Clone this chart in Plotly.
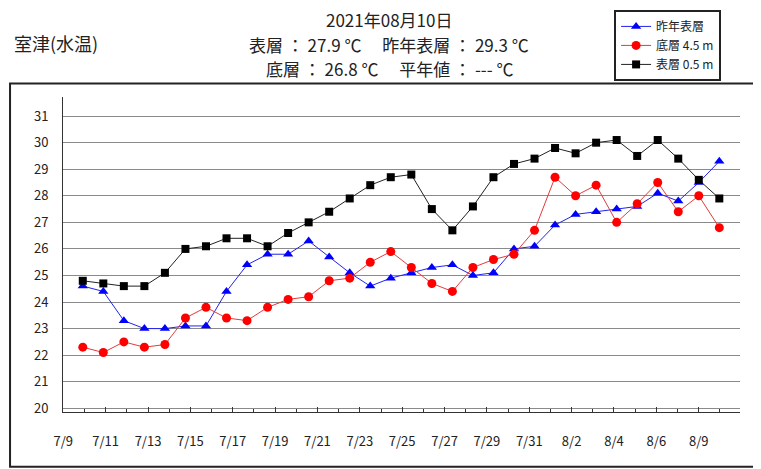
import plotly.graph_objects as go
import pandas as pd

# ---- data ----
dates = pd.date_range("2021-07-10", "2021-08-10", freq="D").strftime("%Y-%m-%d").tolist()

last_year_surface = [24.6, 24.4, 23.3, 23.0, 23.0, 23.1, 23.1, 24.4, 25.4, 25.8, 25.8, 26.3,
                     25.7, 25.1, 24.6, 24.9, 25.1, 25.3, 25.4, 25.0, 25.1, 26.0, 26.1, 26.9,
                     27.3, 27.4, 27.5, 27.6, 28.1, 27.8, 28.5, 29.3]
bottom_45m = [22.3, 22.1, 22.5, 22.3, 22.4, 23.4, 23.8, 23.4, 23.3, 23.8, 24.1, 24.2,
              24.8, 24.9, 25.5, 25.9, 25.3, 24.7, 24.4, 25.3, 25.6, 25.8, 26.7, 28.7,
              28.0, 28.4, 27.0, 27.7, 28.5, 27.4, 28.0, 26.8]
surface_05m = [24.8, 24.7, 24.6, 24.6, 25.1, 26.0, 26.1, 26.4, 26.4, 26.1, 26.6, 27.0,
               27.4, 27.9, 28.4, 28.7, 28.8, 27.5, 26.7, 27.6, 28.7, 29.2, 29.4, 29.8,
               29.6, 30.0, 30.1, 29.5, 30.1, 29.4, 28.6, 27.9]

tick_dates = ["2021-07-09", "2021-07-11", "2021-07-13", "2021-07-15", "2021-07-17",
              "2021-07-19", "2021-07-21", "2021-07-23", "2021-07-25", "2021-07-27",
              "2021-07-29", "2021-07-31", "2021-08-02", "2021-08-04", "2021-08-06",
              "2021-08-08"]
tick_labels = ["7/9", "7/11", "7/13", "7/15", "7/17", "7/19", "7/21", "7/23", "7/25",
               "7/27", "7/29", "7/31", "8/2", "8/4", "8/6", "8/9"]
y_ticks = list(range(20, 32))

names = ["昨年表層", "底層 4.5 m", "表層 0.5 m"]
title_lines = ["2021年08月10日",
               "表層 ： 27.9 ℃　 昨年表層 ： 29.3 ℃",
               "底層 ： 26.8 ℃　 平年値 ： --- ℃"]
station = "室津(水温)"

# ---- layout geometry (page pixels; the page body has an 8px margin) ----
OFF = 8
W, H = 761 - OFF, 469 - OFF
L, R, T, B = 62.5, 740.0, 97.0, 411.7
PW, PH = R - L, B - T


def px(x):
    return (x - L) / PW


def py(y):
    return 1 - (y - T) / PH


FONT = "Noto Sans CJK JP, Noto Sans, sans-serif"

fig = go.Figure()
fig.add_trace(go.Scatter(
    x=dates, y=last_year_surface, name=names[0], mode="lines+markers",
    line=dict(color="#2222ee", width=1),
    marker=dict(symbol="triangle-up", size=9, color="#0000ff"),
))
fig.add_trace(go.Scatter(
    x=dates, y=bottom_45m, name=names[1], mode="lines+markers",
    line=dict(color="#e33b3b", width=1),
    marker=dict(symbol="circle", size=9, color="#ff0000"),
))
fig.add_trace(go.Scatter(
    x=dates, y=surface_05m, name=names[2], mode="lines+markers",
    line=dict(color="#222222", width=1),
    marker=dict(symbol="square", size=8, color="#000000"),
))

fig.update_layout(
    width=W, height=H,
    margin=dict(l=L - OFF, r=761 - R, t=T - OFF, b=469 - B, pad=0, autoexpand=False),
    paper_bgcolor="white", plot_bgcolor="white",
    font=dict(family=FONT, size=13, color="#222222"),
    xaxis=dict(
        type="date", range=["2021-07-09 00:53", "2021-08-11 00:10"],
        visible=False, showgrid=False,
    ),
    xaxis2=dict(
        type="date", overlaying="x", side="bottom",
        range=["2021-07-08 23:40", "2021-08-09 22:48"],
        tickmode="array", tickvals=tick_dates, ticktext=tick_labels,
        ticks="inside", ticklen=5, tickcolor="#333333", tickwidth=1,
        minor=dict(tickmode="linear", tick0="2021-07-09", dtick=86400000,
                   ticks="inside", ticklen=3, tickcolor="#333333", showgrid=False),
        showline=True, linecolor="#333333", linewidth=1,
        showgrid=False, zeroline=False,
        ticklabelstandoff=17,
        tickfont=dict(size=13, color="#222222"),
    ),
    yaxis=dict(
        range=[19.86, 31.72], tickmode="array", tickvals=y_ticks,
        showgrid=True, gridcolor="#8a8a8a", gridwidth=1,
        showline=True, linecolor="#333333", linewidth=1,
        ticks="", zeroline=False, ticklabelstandoff=11,
        tickfont=dict(size=13, color="#222222"),
    ),
    legend=dict(
        x=px(614), y=py(10), xanchor="left", yanchor="top",
        bgcolor="white", bordercolor="#222222", borderwidth=2,
        font=dict(size=12, color="#222222"),
        itemwidth=30, tracegroupgap=0,
    ),
    showlegend=True,
)

# dummy trace to activate the tick axis
fig.add_trace(go.Scatter(x=[tick_dates[0]], y=[None], xaxis="x2", showlegend=False,
                         hoverinfo="skip"))

# outer frame
fig.add_shape(type="rect", xref="paper", yref="paper",
              x0=px(9.5), x1=px(758.5), y0=py(466.5), y1=py(83.5),
              line=dict(color="#222222", width=2), layer="above")

# texts
fig.add_annotation(text=station, xref="paper", yref="paper",
                   x=px(11), y=py(43), xanchor="left", yanchor="middle",
                   showarrow=False, font=dict(size=18, color="#222222"))
for line, yy in zip(title_lines, [19.8, 44.3, 68.8]):
    fig.add_annotation(text=line, xref="paper", yref="paper",
                       x=px(389), y=py(yy), xanchor="center", yanchor="middle",
                       showarrow=False, borderpad=0,
                       font=dict(size=17, color="#222222"))

fig.write_html("out.html")
